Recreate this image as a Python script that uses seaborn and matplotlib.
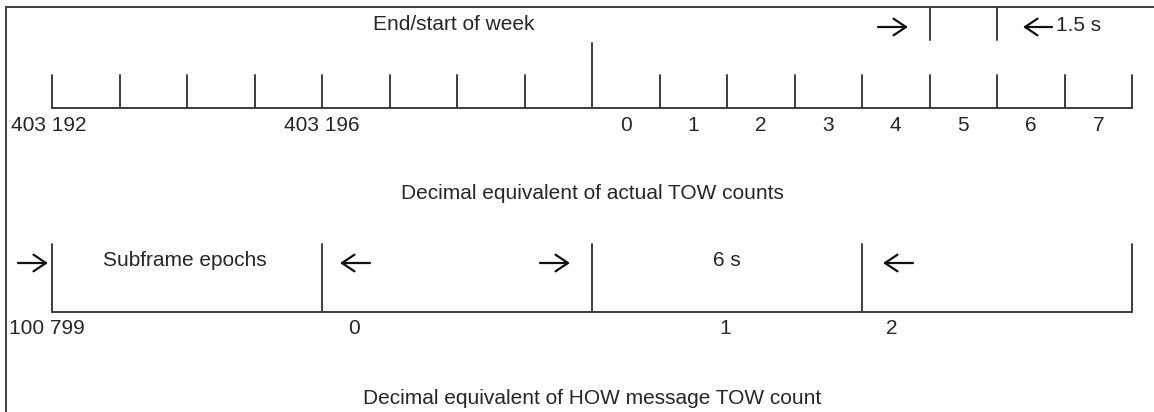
import matplotlib
matplotlib.use("Agg")
import matplotlib.pyplot as plt
import pandas as pd
import seaborn as sns

# ─── Data ────────────────────────────────────────────────────
# x positions are in units of the 1.5 s tick spacing, y in pixel rows (top-down)

top_ticks = list(range(17))          # 1.5 s epochs along the actual TOW axis
week_tick = 8                        # end/start of week (tall tick)
top_labels = ["403 192", "403 196", "0", "1", "2", "3", "4", "5", "6", "7"]
top_label_pos = [-0.05, 4.0, 8.5, 9.5, 10.5, 11.5, 12.5, 13.5, 14.5, 15.5]

bottom_ticks = [0, 4, 8, 12, 16]     # 6 s subframe epochs
bottom_labels = ["100 799", "0", "1", "2"]
bottom_label_pos = [-0.08, 4.47, 9.98, 12.44]

interval_marks = [13, 14]            # the 1.5 s interval brackets

# ─── Layout ──────────────────────────────────────────────────
W, H, DPI = 1154, 412, 100
PX0, STEP = 52, 67.5                 # pixel x of tick 0, pixels per tick


def to_x(px):
    return (px - PX0) / STEP


LINE = "#3d3d3d"
TEXT = "#262626"
FONT = ["Liberation Sans", "DejaVu Sans"]
FS = 15

sns.set_theme(style="white")
plt.rcParams["font.family"] = FONT

fig = plt.figure(figsize=(W / DPI, H / DPI), dpi=DPI)
ax = fig.add_axes([0, 0, 1, 1])

# build every straight segment as rows for seaborn
segs = []


def seg(x0, y0, x1, y1):
    sid = len(segs) // 2
    segs.append({"x": x0, "y": y0, "seg": sid})
    segs.append({"x": x1, "y": y1, "seg": sid})


# frame
seg(to_x(6), 7, to_x(W), 7)
seg(to_x(6), 7, to_x(6), H)

# top axis
seg(top_ticks[0], 108, top_ticks[-1], 108)
for t in top_ticks:
    seg(t, 108, t, 43 if t == week_tick else 75)
for t in interval_marks:
    seg(t, 7, t, 40)

# bottom axis
seg(bottom_ticks[0], 312, bottom_ticks[-1], 312)
for t in bottom_ticks:
    seg(t, 312, t, 244)

df = pd.DataFrame(segs)
sns.lineplot(data=df, x="x", y="y", units="seg", estimator=None, sort=False,
             color=LINE, linewidth=1.4, ax=ax, legend=False)
ax.set_xlim(to_x(0), to_x(W))
ax.set_ylim(H, 0)
ax.axis("off")

# tick labels
for lab, x in zip(top_labels, top_label_pos):
    ax.text(x, 125, lab, ha="center", va="center", fontsize=FS, color=TEXT)
for lab, x in zip(bottom_labels, bottom_label_pos):
    ax.text(x, 329, lab, ha="center", va="center", fontsize=FS, color=TEXT)

# captions
ax.text(to_x(454), 24, "End/start of week", ha="center", va="center", fontsize=FS, color=TEXT)
ax.text(to_x(1056), 25, "1.5 s", ha="left", va="center", fontsize=FS, color=TEXT)
ax.text(8, 193, "Decimal equivalent of actual TOW counts", ha="center", va="center",
        fontsize=FS, color=TEXT)
ax.text(to_x(185), 261, "Subframe epochs", ha="center", va="center", fontsize=FS, color=TEXT)
ax.text(10, 261, "6 s", ha="center", va="center", fontsize=FS, color=TEXT)
ax.text(8, 398, "Decimal equivalent of HOW message TOW count", ha="center", va="center",
        fontsize=FS, color=TEXT)

# arrows (start px, end px, y)
arrows = [(878, 908, 27), (1052, 1023, 27),
          (18, 48, 263), (370, 340, 263), (540, 570, 263), (913, 883, 263)]
for x0, x1, y in arrows:
    ax.annotate("", xy=(to_x(x1), y), xytext=(to_x(x0), y),
                arrowprops=dict(arrowstyle="->,head_length=0.45,head_width=0.3",
                                color="#111111", lw=1.6, mutation_scale=20,
                                shrinkA=0, shrinkB=0))

fig.savefig("out.png", dpi=DPI)
